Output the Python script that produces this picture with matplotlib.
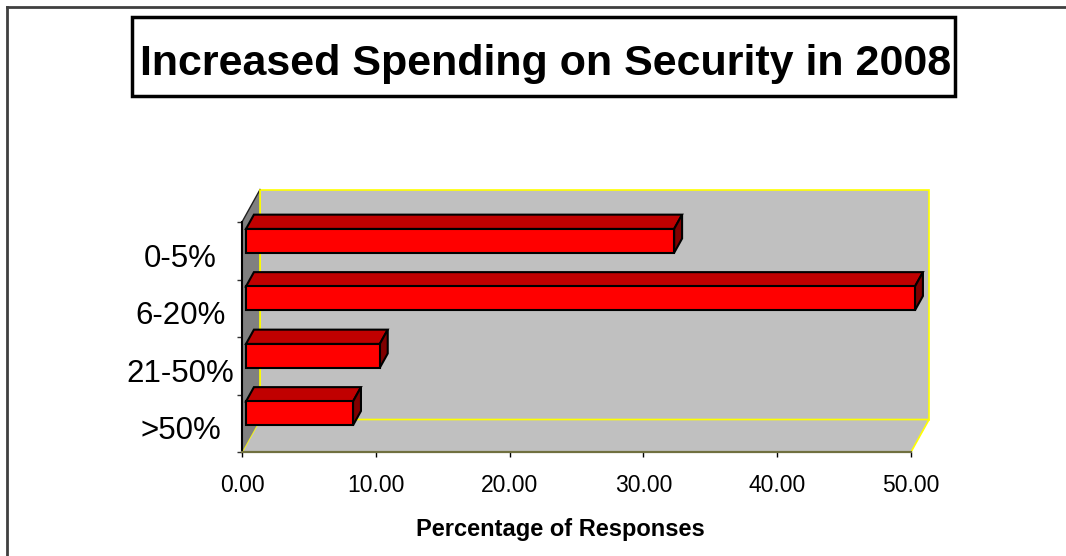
import matplotlib
matplotlib.use("Agg")
import matplotlib.pyplot as plt
from matplotlib.patches import Polygon, Rectangle
from matplotlib.lines import Line2D

CATEGORIES = ["0-5%", "6-20%", "21-50%", ">50%"]
RESPONSES = [32, 50, 10, 8]
X_TICKS = [0, 10, 20, 30, 40, 50]
X_TICK_LABELS = [f"{t:.2f}" for t in X_TICKS]

TITLE = "Increased Spending on Security in 2008"
X_LABEL = "Percentage of Responses"

# fake 3d: depth offset of the back wall, in data units
DEPTH_X = 1.35
DEPTH_Y = 0.565
# bar placement inside its band / along the depth
BAR_FRONT, BAR_BACK = 0.22, 0.66
BAR_LO, BAR_HI = 0.34, 0.755

WALL = "#C0C0C0"
SIDE_WALL = "#808080"
EDGE = "#FFFF00"
FACE_FRONT = "#FF0000"
FACE_TOP = "#C00000"
FACE_SIDE = "#800000"

plt.rcParams["font.family"] = ["Liberation Sans", "DejaVu Sans"]

fig = plt.figure(figsize=(10.66, 5.56), dpi=100)
W, H = 1066, 556
ax = fig.add_axes([242 / W, (H - 452) / H, (911 - 242) / W, (452 - 222) / H])
ax.set_facecolor("none")

xmax = X_TICKS[-1]
ntop = len(CATEGORIES)
ax.set_xlim(0, xmax)
ax.set_ylim(0, ntop)


def poly(pts, fc, ec, lw=1.0, z=1):
    ax.add_patch(Polygon(pts, closed=True, facecolor=fc, edgecolor=ec,
                         linewidth=lw, zorder=z, clip_on=False))


# walls and floor
poly([(DEPTH_X, DEPTH_Y), (xmax + DEPTH_X, DEPTH_Y),
      (xmax + DEPTH_X, ntop + DEPTH_Y), (DEPTH_X, ntop + DEPTH_Y)], WALL, EDGE, 1.2, 0.5)
poly([(0, 0), (xmax, 0), (xmax + DEPTH_X, DEPTH_Y), (DEPTH_X, DEPTH_Y)], WALL, EDGE, 1.2, 0.6)
poly([(0, 0), (0, ntop), (DEPTH_X, ntop + DEPTH_Y), (DEPTH_X, DEPTH_Y)], SIDE_WALL, "none", 0, 0.7)
ax.add_line(Line2D([0, DEPTH_X], [ntop, ntop + DEPTH_Y], color="#202020",
                   linewidth=1.0, zorder=0.8, clip_on=False))
ax.add_line(Line2D([DEPTH_X, DEPTH_X], [DEPTH_Y, ntop + DEPTH_Y], color=EDGE,
                   linewidth=1.2, zorder=0.8, clip_on=False))

# bars, first category on top
for i, (cat, val) in enumerate(zip(CATEGORIES, RESPONSES)):
    band = ntop - 1 - i
    x0 = BAR_FRONT * DEPTH_X
    x1 = val + x0
    y0 = band + BAR_LO + BAR_FRONT * DEPTH_Y
    y1 = band + BAR_HI + BAR_FRONT * DEPTH_Y
    ddx = (BAR_BACK - BAR_FRONT) * DEPTH_X
    ddy = (BAR_BACK - BAR_FRONT) * DEPTH_Y
    poly([(x0, y1), (x1, y1), (x1 + ddx, y1 + ddy), (x0 + ddx, y1 + ddy)], FACE_TOP, "black", 1.5, 2)
    poly([(x1, y0), (x1 + ddx, y0 + ddy), (x1 + ddx, y1 + ddy), (x1, y1)], FACE_SIDE, "black", 1.5, 2)
    poly([(x0, y0), (x1, y0), (x1, y1), (x0, y1)], FACE_FRONT, "black", 1.5, 2.1)
    ax.text(-4.6, band + 0.225, cat, ha="center", va="baseline", fontsize=22.5)

for side in ("top", "right"):
    ax.spines[side].set_visible(False)
ax.spines["left"].set_color("black")
ax.spines["left"].set_linewidth(1.5)
ax.spines["left"].set_zorder(3)
ax.spines["bottom"].set_color("#707040")
ax.spines["bottom"].set_linewidth(1.6)
ax.spines["bottom"].set_zorder(3)

ax.set_xticks(X_TICKS)
ax.set_xticklabels(X_TICK_LABELS)
ax.set_yticks(range(ntop + 1))
ax.set_yticklabels([])
ax.tick_params(axis="x", direction="out", length=3.5, width=1, color="black",
               pad=12, labelsize=16.5)
ax.tick_params(axis="y", direction="out", length=3.6, width=1, color="#333333")

fig.text(560 / W, (H - 536) / H, X_LABEL, ha="center", va="baseline",
         fontsize=17, fontweight="bold")

# title box
fig.patches.append(Rectangle((132 / W, (H - 96) / H), (955 - 132) / W, (96 - 17) / H,
                             transform=fig.transFigure, facecolor="white",
                             edgecolor="black", linewidth=2.5))
fig.text(546 / W, (H - 75) / H, TITLE, ha="center", va="baseline",
         fontsize=31, fontweight="bold")

# outer frame (top and left edges only)
fig.add_artist(Line2D([7 / W, 1.0], [(H - 7) / H] * 2, transform=fig.transFigure,
                      color="#404040", linewidth=2))
fig.add_artist(Line2D([7 / W] * 2, [0, (H - 7) / H], transform=fig.transFigure,
                      color="#404040", linewidth=2))

fig.savefig("out.png", dpi=100)
